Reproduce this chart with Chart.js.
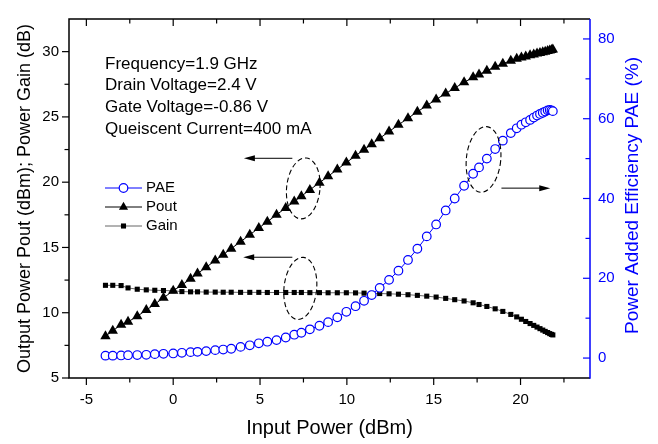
<!DOCTYPE html>
<html><head><meta charset="utf-8">
<script src="https://cdn.jsdelivr.net/npm/chart.js@4.4.0/dist/chart.umd.min.js"></script>
<style>html,body{margin:0;padding:0;background:#fff;}</style>
</head><body>
<canvas id="c" width="658" height="444"></canvas>
<script>
// ---- data ----
const inputPower = [-3.9,-3.48,-3.0,-2.6,-2.07,-1.55,-1.06,-0.56,0.0,0.5,1.0,1.4,1.9,2.42,2.88,3.34,3.88,4.41,4.93,5.42,5.95,6.48,6.97,7.38,7.87,8.42,8.92,9.45,9.97,10.5,10.99,11.43,11.89,12.43,12.97,13.52,14.06,14.6,15.14,15.69,16.21,16.75,17.27,17.61,18.06,18.54,18.98,19.44,19.78,20.05,20.3,20.55,20.76,20.95,21.12,21.28,21.42,21.56,21.68,21.78,21.86];
const pout = [8.2,8.62,9.08,9.3,9.73,10.2,10.66,11.14,11.68,12.12,12.6,13.0,13.48,14.0,14.45,14.91,15.44,15.97,16.49,16.97,17.5,18.03,18.52,18.93,19.41,19.96,20.45,20.98,21.5,22.02,22.49,22.91,23.36,23.88,24.39,24.9,25.39,25.87,26.34,26.79,27.21,27.65,28.03,28.24,28.54,28.84,29.08,29.31,29.46,29.55,29.63,29.72,29.79,29.85,29.9,29.95,29.99,30.04,30.08,30.12,30.16];
const gain = [12.1,12.1,12.08,11.9,11.8,11.75,11.72,11.7,11.68,11.62,11.6,11.6,11.58,11.58,11.57,11.57,11.56,11.56,11.56,11.55,11.55,11.55,11.55,11.55,11.54,11.54,11.53,11.53,11.53,11.52,11.5,11.48,11.47,11.45,11.42,11.38,11.33,11.27,11.2,11.1,11.0,10.9,10.76,10.63,10.48,10.3,10.1,9.87,9.68,9.5,9.33,9.17,9.03,8.9,8.78,8.67,8.57,8.48,8.4,8.34,8.3];
const pae = [0.6,0.6,0.65,0.72,0.75,0.82,0.98,1.07,1.15,1.32,1.48,1.56,1.74,1.98,2.13,2.33,2.8,3.2,3.7,4.1,4.5,5.15,5.85,6.35,7.2,8.1,9.0,10.2,11.6,13.0,14.35,15.8,17.6,19.6,21.9,24.6,27.4,30.5,33.5,37.0,40.0,43.2,46.2,47.8,50.0,52.4,54.5,56.4,57.6,58.5,59.1,59.7,60.3,60.8,61.2,61.5,61.8,62.1,62.2,62.1,61.9];

const xTicks = [-5,0,5,10,15,20];
const xMinorTicks = [-2.5,2.5,7.5,12.5,17.5,22.5];
const leftTicks = [5,10,15,20,25,30];
const leftMinorTicks = [7.5,12.5,17.5,22.5,27.5];
const rightTicks = [0,20,40,60,80];
const rightMinorTicks = [10,30,50,70];

const seriesLabels = ['PAE','Pout','Gain'];
const notes = ['Frequency=1.9 GHz','Drain Voltage=2.4 V','Gate Voltage=-0.86 V','Queiscent Current=400 mA'];
const xTitle = 'Input Power (dBm)';
const leftTitle = 'Output Power Pout (dBm); Power Gain (dB)';
const rightTitle = 'Power Added Efficiency PAE (%)';

// annotation shapes in data coordinates
const ellipses = [
  {axis:'y', cx:7.49, cy:19.52, rx:0.96, ry:2.34},
  {axis:'y', cx:7.32, cy:11.86, rx:0.94, ry:2.39},
  {axis:'y2', cx:17.87, cy:49.8, rx:0.99, ry:8.26}
];
const arrows = [
  {axis:'y', x1:6.86, x2:4.07, y:21.83},
  {axis:'y', x1:6.86, x2:4.03, y:14.25},
  {axis:'y2', x1:18.9, x2:21.71, y:42.6}
];

const FONT = '"Liberation Sans", Arial, Helvetica, sans-serif';
const BLUE = '#0000ff';

const styles = [
  {pointStyle:'circle', radius:4.3, fill:'#fff', stroke:BLUE, line:BLUE, bw:1.2},
  {pointStyle:'triangle', radius:6.0, fill:'#000', stroke:'#000', line:'#000', bw:0},
  {pointStyle:'rect', radius:3.6, fill:'#000', stroke:'#000', line:'#666', bw:0}
];

const pts = ys => inputPower.map((x,i)=>({x:x, y:ys[i]}));

const decor = {
  id:'decor',
  afterDraw(chart){
    const {ctx, chartArea:a, scales} = chart;
    const sx = scales.x, yl = scales.y, yr = scales.y2;
    ctx.save();
    // frame
    ctx.lineWidth = 1.5;
    ctx.strokeStyle = '#000';
    ctx.beginPath();
    ctx.moveTo(a.right, a.top); ctx.lineTo(a.left, a.top); ctx.lineTo(a.left, a.bottom); ctx.lineTo(a.right, a.bottom);
    ctx.stroke();
    ctx.strokeStyle = BLUE;
    ctx.beginPath(); ctx.moveTo(a.right, a.top); ctx.lineTo(a.right, a.bottom+0.75); ctx.stroke();
    // ticks
    const tick = (px,py,dx,dy)=>{ctx.beginPath();ctx.moveTo(px,py);ctx.lineTo(px+dx,py+dy);ctx.stroke();};
    ctx.lineWidth = 1.2;
    ctx.strokeStyle = '#000';
    xTicks.forEach(v=>{const p=sx.getPixelForValue(v); tick(p,a.bottom,0,7); tick(p,a.top,0,7);});
    xMinorTicks.forEach(v=>{const p=sx.getPixelForValue(v); tick(p,a.bottom,0,4.5); tick(p,a.top,0,4.5);});
    leftTicks.forEach(v=>{const p=yl.getPixelForValue(v); tick(a.left,p,-7,0);});
    leftMinorTicks.forEach(v=>{const p=yl.getPixelForValue(v); tick(a.left,p,-4.5,0);});
    ctx.strokeStyle = BLUE;
    rightTicks.forEach(v=>{const p=yr.getPixelForValue(v); tick(a.right,p,-7,0);});
    rightMinorTicks.forEach(v=>{const p=yr.getPixelForValue(v); tick(a.right,p,-4.5,0);});

    // right axis title (reads bottom to top)
    ctx.save();
    ctx.fillStyle = BLUE;
    ctx.font = '19px ' + FONT;
    ctx.textAlign = 'center'; ctx.textBaseline = 'middle';
    ctx.translate(633, (a.top + a.bottom)/2 - 3);
    ctx.rotate(-Math.PI/2);
    ctx.fillText(rightTitle, 0, 0);
    ctx.restore();

    // notes
    ctx.fillStyle = '#000';
    ctx.font = '17px ' + FONT;
    ctx.textBaseline = 'middle';
    ctx.textAlign = 'left';
    notes.forEach((t,i)=>ctx.fillText(t, a.left+36, a.top+45+i*21.7));

    // legend
    ctx.font = '15px ' + FONT;
    seriesLabels.forEach((lab,i)=>{
      const st = styles[i];
      const y = a.top + 169 + i*19;
      const x0 = a.left + 36, x1 = a.left + 73;
      ctx.strokeStyle = st.line; ctx.lineWidth = 1;
      ctx.beginPath(); ctx.moveTo(x0,y); ctx.lineTo(x1,y); ctx.stroke();
      ctx.fillStyle = st.fill; ctx.strokeStyle = st.stroke; ctx.lineWidth = st.bw || 0.01;
      const r = st.pointStyle === 'triangle' ? 5.3 : st.radius;
      Chart.helpers.drawPoint(ctx, {pointStyle:st.pointStyle, radius:r, rotation:0, borderWidth:st.bw}, (x0+x1)/2, y);
      ctx.fillStyle = '#000';
      ctx.fillText(lab, x1+4, y);
    });

    // ellipses
    ctx.strokeStyle = '#000'; ctx.lineWidth = 1.1;
    ctx.setLineDash([5,3]);
    ellipses.forEach(e=>{
      const ys = scales[e.axis];
      const cx = sx.getPixelForValue(e.cx), cy = ys.getPixelForValue(e.cy);
      const rx = Math.abs(sx.getPixelForValue(e.cx+e.rx)-cx), ry = Math.abs(ys.getPixelForValue(e.cy+e.ry)-cy);
      ctx.beginPath(); ctx.ellipse(cx,cy,rx,ry,0.1,0,Math.PI*2); ctx.stroke();
    });
    ctx.setLineDash([]);
    // arrows
    ctx.fillStyle = '#000'; ctx.lineWidth = 1;
    arrows.forEach(ar=>{
      const ys = scales[ar.axis];
      const p1 = sx.getPixelForValue(ar.x1), p2 = sx.getPixelForValue(ar.x2), py = ys.getPixelForValue(ar.y);
      const dir = Math.sign(p2-p1);
      ctx.beginPath(); ctx.moveTo(p1,py); ctx.lineTo(p2-dir*8,py); ctx.stroke();
      ctx.beginPath(); ctx.moveTo(p2,py); ctx.lineTo(p2-dir*11,py-3); ctx.lineTo(p2-dir*11,py+3); ctx.closePath(); ctx.fill();
    });
    ctx.restore();
  }
};

const tickFont = {family:FONT, size:15};
new Chart(document.getElementById('c').getContext('2d'), {
  type:'line',
  data:{datasets: seriesLabels.map((lab,i)=>{
    const st = styles[i];
    return {label:lab, data: pts([pae,pout,gain][i]), yAxisID: i===0?'y2':'y',
      borderColor: st.line, borderWidth:1, tension:0, fill:false,
      pointStyle: st.pointStyle, pointRadius: st.radius, pointHoverRadius: st.radius,
      pointBackgroundColor: st.fill, pointBorderColor: st.stroke, pointBorderWidth: st.bw};
  })},
  options:{
    responsive:false, animation:false, devicePixelRatio:1,
    layout:{padding:{top:13,left:0,right:0,bottom:0}, autoPadding:false},
    plugins:{legend:{display:false}, tooltip:{enabled:false}},
    events:[],
    scales:{
      x:{type:'linear', position:'bottom', min:-6, max:24,
        afterBuildTicks:s=>{s.ticks = xTicks.map(v=>({value:v}));},
        afterFit:s=>{s.height = 66;},
        grid:{display:false, drawTicks:false}, border:{display:false},
        ticks:{font:tickFont, color:'#000', padding:13, maxRotation:0, autoSkip:false, callback:v=>String(v)},
        title:{display:true, text:xTitle, color:'#000', font:{family:FONT, size:20}, padding:{top:0,bottom:4}}},
      y:{type:'linear', position:'left', min:5, max:32.5,
        afterBuildTicks:s=>{s.ticks = leftTicks.map(v=>({value:v}));},
        afterFit:s=>{s.width = 69;},
        grid:{display:false, drawTicks:false}, border:{display:false},
        ticks:{font:tickFont, color:'#000', padding:10, autoSkip:false, callback:v=>String(v)},
        title:{display:true, text:leftTitle, color:'#000', font:{family:FONT, size:18}, padding:{top:14,bottom:0}}},
      y2:{type:'linear', position:'right', min:-5, max:85,
        afterBuildTicks:s=>{s.ticks = rightTicks.map(v=>({value:v}));},
        afterFit:s=>{s.width = 68;},
        grid:{display:false, drawTicks:false}, border:{display:false},
        ticks:{font:tickFont, color:BLUE, padding:8, autoSkip:false, callback:v=>String(v)},
        title:{display:false}}
    }
  },
  plugins:[decor]
});
</script>
</body></html>
